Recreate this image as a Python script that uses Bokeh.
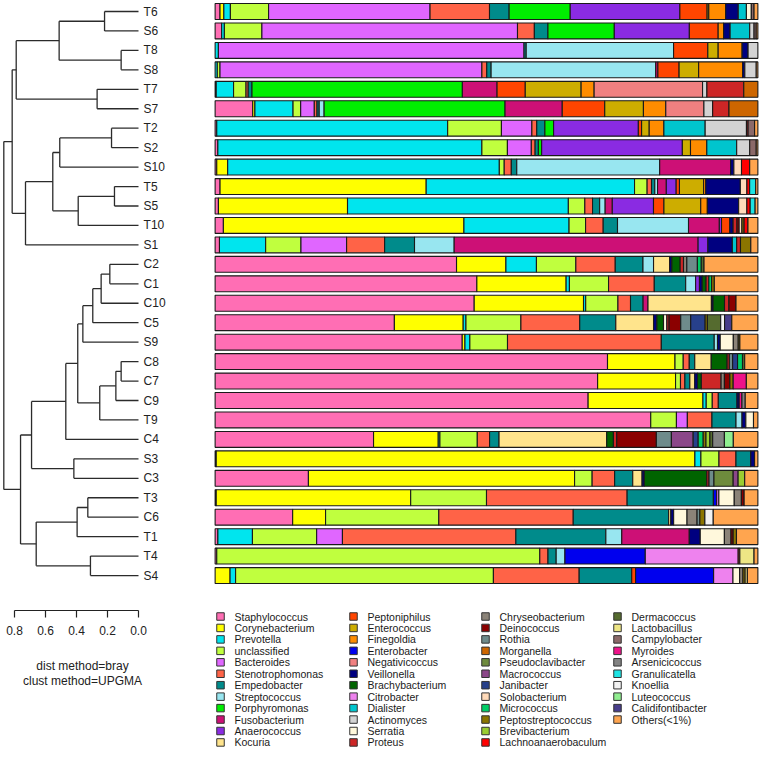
from bokeh.plotting import figure
from bokeh.models import Range1d, LinearAxis, FixedTicker, PrintfTickFormatter, ColumnDataSource
from bokeh.layouts import row, column
from bokeh.embed import file_html
from bokeh.resources import INLINE
from bokeh.core.properties import value

FONT = "Liberation Sans"

# ---------------- categories (stack order) ----------------
genera = ["Staphylococcus", "Corynebacterium", "Prevotella", "unclassified", "Bacteroides",
          "Stenotrophomonas", "Empedobacter", "Streptococcus", "Porphyromonas", "Fusobacterium",
          "Anaerococcus", "Kocuria", "Peptoniphilus", "Enterococcus", "Finegoldia",
          "Enterobacter", "Negativicoccus", "Veillonella", "Brachybacterium", "Citrobacter",
          "Dialister", "Actinomyces", "Serratia", "Proteus", "Chryseobacterium",
          "Deinococcus", "Rothia", "Morganella", "Pseudoclavibacter", "Macrococcus",
          "Janibacter", "Solobacterium", "Micrococcus", "Peptostreptococcus", "Brevibacterium",
          "Lachnoanaerobaculum", "Dermacoccus", "Lactobacillus", "Campylobacter", "Myroides",
          "Arsenicicoccus", "Granulicatella", "Knoellia", "Luteococcus", "Calidifontibacter",
          "Others(<1%)"]
colors = ["#FF6EB4", "#FFFF00", "#00E5EE", "#C0FF3E", "#E066FF",
          "#FF6347", "#008B8B", "#98E6F0", "#00EE00", "#CD1076",
          "#8A2BE2", "#FFE48C", "#FF4500", "#CDAD00", "#FF8C00",
          "#0000EE", "#F08080", "#000080", "#006400", "#EE82EE",
          "#00C5CD", "#D3D3D3", "#FFF8DC", "#CD2626", "#8B8378",
          "#8B0000", "#6E8B8B", "#CD6600", "#6E8B3D", "#8B4789",
          "#27408B", "#FFDAB9", "#00CD66", "#8B7500", "#9ACD32",
          "#FF0000", "#556B2F", "#EEE685", "#8B6969", "#EE1289",
          "#838383", "#1DE3E3", "#F2F2F2", "#90EE90", "#483D8B",
          "#FFA54F"]

# sample order (top to bottom, dendrogram leaf order)
samples = ["T6", "S6", "T8", "S8", "T7", "S7", "T2", "S2", "S10", "T5", "S5", "T10", "S1",
           "C2", "C1", "C10", "C5", "S9", "C8", "C7", "C9", "T9", "C4", "S3", "C3",
           "T3", "C6", "T1", "T4", "S4"]

# relative abundance (%) per sample: {genus index: value}
ab_T6 = {0: 0.9, 1: 0.7, 2: 1.2, 3: 7.0, 4: 29.6, 5: 10.9, 6: 3.6, 8: 11.2, 10: 20.1, 12: 5.0,
         13: 0.3, 14: 3.1, 17: 2.3, 20: 1.5, 22: 0.9, 38: 0.5, 45: 0.7}
ab_S6 = {0: 1.2, 2: 0.5, 3: 6.9, 4: 47.0, 5: 3.1, 6: 2.5, 8: 12.2, 10: 13.8, 12: 5.3, 14: 1.0,
         17: 1.2, 20: 3.6, 21: 0.8, 38: 0.4, 45: 0.3}
ab_T8 = {2: 0.6, 4: 56.2, 6: 0.4, 7: 27.1, 12: 6.3, 13: 1.9, 14: 4.4, 17: 1.1, 21: 1.8}
ab_S8 = {2: 0.4, 3: 0.5, 4: 48.2, 5: 0.9, 6: 0.8, 7: 30.3, 9: 0.4, 12: 3.9, 13: 3.6, 14: 8.1,
         17: 0.4, 21: 2.1, 45: 0.3}
ab_T7 = {0: 0.2, 2: 3.2, 3: 2.3, 5: 0.4, 6: 0.7, 8: 38.8, 9: 6.4, 12: 5.2, 13: 10.3, 14: 2.4,
         16: 20.0, 21: 0.8, 23: 6.8, 27: 2.6}
ab_S7 = {0: 6.9, 1: 0.4, 2: 7.0, 3: 1.4, 4: 2.5, 5: 0.5, 6: 0.4, 7: 0.9, 8: 33.2, 9: 10.5,
         12: 7.8, 13: 7.1, 14: 4.1, 16: 7.0, 21: 1.6, 23: 3.0, 27: 5.3}
ab_T2 = {0: 0.3, 2: 42.5, 3: 9.9, 4: 5.6, 5: 0.9, 6: 1.5, 8: 1.6, 10: 15.6, 12: 0.6, 13: 1.4,
         14: 2.7, 20: 7.6, 21: 7.6, 23: 0.3, 38: 1.2, 45: 0.6}
ab_S2 = {0: 0.5, 2: 48.6, 3: 4.7, 4: 4.4, 5: 0.7, 6: 0.6, 8: 0.6, 10: 25.9, 13: 1.5, 14: 3.0,
         20: 5.5, 21: 2.4, 38: 1.2, 45: 0.3}
ab_S10 = {0: 0.3, 1: 2.0, 2: 49.8, 3: 0.9, 5: 1.3, 6: 1.0, 7: 26.2, 9: 13.0, 17: 0.6, 31: 1.4,
          35: 1.5, 45: 1.5}
ab_T5 = {0: 0.9, 1: 37.6, 2: 38.0, 3: 2.3, 5: 0.8, 6: 0.6, 7: 0.5, 9: 1.6, 10: 1.8, 12: 0.6,
         13: 4.4, 14: 0.4, 17: 6.3, 31: 1.2, 35: 0.5, 41: 1.1, 45: 0.4}
ab_S5 = {0: 0.6, 1: 23.5, 2: 40.2, 3: 3.0, 5: 1.4, 6: 1.3, 7: 1.0, 9: 1.3, 10: 7.5, 12: 1.9,
         13: 6.7, 14: 1.2, 17: 5.7, 31: 1.5, 35: 0.6, 41: 0.9, 45: 0.5}
ab_T10 = {0: 1.5, 1: 43.7, 2: 19.1, 3: 3.0, 5: 3.2, 6: 2.6, 7: 12.9, 9: 5.6, 10: 0.4, 12: 1.5,
          17: 0.6, 23: 0.7, 25: 0.4, 31: 0.5, 33: 0.4, 35: 0.7, 45: 1.8}
ab_S1 = {0: 0.8, 2: 8.5, 3: 6.5, 4: 8.4, 5: 7.0, 6: 5.5, 7: 7.3, 9: 44.9, 10: 1.8, 17: 4.5,
         20: 0.8, 23: 0.7, 33: 1.9, 45: 1.3}
ab_C2 = {0: 43.5, 1: 8.9, 2: 5.5, 3: 7.1, 5: 7.1, 6: 5.0, 7: 1.9, 11: 2.9, 17: 0.4, 18: 1.5,
         23: 0.6, 24: 0.6, 26: 1.9, 32: 0.7, 36: 0.5, 45: 9.7}
ab_C1 = {0: 47.5, 1: 16.2, 2: 0.6, 3: 7.1, 5: 8.3, 6: 5.7, 7: 1.8, 10: 0.7, 17: 0.5, 18: 0.7,
         23: 0.5, 32: 0.5, 33: 0.5, 45: 7.9}
ab_C10 = {0: 47.4, 1: 20.0, 2: 0.4, 3: 5.9, 5: 2.3, 6: 2.3, 9: 0.9, 11: 11.6, 17: 0.3, 18: 2.1,
          23: 0.8, 25: 1.3, 45: 4.0}
ab_C5 = {0: 32.3, 1: 12.4, 2: 0.5, 3: 9.9, 5: 10.6, 6: 6.5, 11: 6.8, 17: 0.6, 18: 1.2, 22: 0.6,
         23: 0.4, 25: 2.1, 26: 1.8, 30: 2.6, 33: 0.4, 36: 2.4, 42: 0.7, 44: 1.3, 45: 4.7}
ab_S9 = {0: 45.3, 1: 0.5, 2: 0.9, 3: 6.9, 5: 28.2, 6: 9.7, 7: 0.6, 17: 0.5, 22: 2.4, 24: 0.9,
         33: 0.3, 45: 3.3}
ab_C8 = {0: 71.5, 1: 12.3, 3: 1.5, 5: 1.1, 6: 1.0, 11: 3.0, 18: 2.9, 23: 0.4, 26: 0.6, 30: 0.9,
         32: 0.9, 36: 0.4, 45: 2.4}
ab_C7 = {0: 69.7, 1: 14.2, 3: 0.9, 5: 0.8, 6: 0.9, 11: 0.9, 17: 0.5, 18: 0.7, 23: 3.6, 24: 0.6,
         25: 1.0, 33: 0.6, 39: 2.4, 45: 2.1}
ab_C9 = {0: 67.9, 1: 20.9, 2: 0.6, 3: 1.1, 5: 1.1, 6: 3.4, 17: 0.4, 39: 0.5, 40: 0.6, 45: 2.3}
ab_T9 = {0: 79.7, 3: 4.7, 4: 2.0, 5: 4.5, 6: 4.4, 7: 1.1, 17: 0.7, 22: 1.4, 45: 0.8}
ab_C4 = {0: 28.4, 1: 11.6, 2: 0.3, 3: 6.7, 5: 2.2, 6: 1.7, 11: 19.3, 18: 1.2, 23: 0.6, 25: 7.1,
         26: 2.7, 29: 3.9, 30: 0.9, 32: 0.9, 33: 0.5, 34: 0.7, 36: 0.5, 40: 2.1, 43: 1.6, 45: 4.4}
ab_S3 = {0: 0.2, 1: 87.4, 2: 1.1, 3: 3.3, 5: 3.1, 6: 2.7, 17: 0.7, 45: 0.6}
ab_C3 = {0: 17.0, 1: 48.5, 3: 3.2, 5: 4.1, 6: 3.3, 11: 1.7, 17: 0.4, 18: 11.4, 23: 0.4, 26: 0.9,
         28: 3.5, 29: 0.9, 34: 1.2, 45: 2.4}
ab_T3 = {0: 0.2, 1: 35.4, 3: 13.8, 5: 25.6, 6: 15.7, 15: 0.6, 19: 0.4, 22: 2.8, 24: 1.3, 25: 0.5,
         45: 2.5}
ab_C6 = {0: 13.9, 1: 5.9, 3: 20.3, 5: 24.1, 6: 17.1, 11: 0.4, 17: 0.5, 22: 2.4, 24: 1.8, 26: 0.5,
         33: 0.9, 42: 1.5, 45: 8.0}
ab_T1 = {0: 0.5, 2: 6.3, 3: 11.7, 4: 4.7, 5: 31.6, 6: 16.4, 7: 2.9, 9: 12.3, 17: 2.0, 22: 4.4,
         24: 1.2, 25: 0.4, 33: 0.6, 45: 3.9}
ab_T4 = {0: 0.3, 3: 59.1, 5: 1.5, 6: 1.5, 7: 1.6, 15: 14.7, 19: 17.0, 23: 0.3, 37: 2.6, 45: 0.7}
ab_S4 = {1: 2.7, 2: 1.0, 3: 46.6, 5: 15.5, 6: 9.5, 12: 0.7, 15: 14.1, 19: 3.5, 22: 1.2, 24: 0.6,
         33: 0.4, 37: 0.4, 45: 1.9}

abundance = {"T6": ab_T6, "S6": ab_S6, "T8": ab_T8, "S8": ab_S8, "T7": ab_T7, "S7": ab_S7,
             "T2": ab_T2, "S2": ab_S2, "S10": ab_S10, "T5": ab_T5, "S5": ab_S5, "T10": ab_T10,
             "S1": ab_S1, "C2": ab_C2, "C1": ab_C1, "C10": ab_C10, "C5": ab_C5, "S9": ab_S9,
             "C8": ab_C8, "C7": ab_C7, "C9": ab_C9, "T9": ab_T9, "C4": ab_C4, "S3": ab_S3,
             "C3": ab_C3, "T3": ab_T3, "C6": ab_C6, "T1": ab_T1, "T4": ab_T4, "S4": ab_S4}

# UPGMA merges (left, right, height); "mK" = K-th merge
merges = [("T6", "S6", 0.219), ("T8", "S8", 0.112), ("m0", "m1", 0.512), ("T7", "S7", 0.267),
          ("m2", "m3", 0.789), ("T2", "S2", 0.174), ("m5", "S10", 0.508), ("T5", "S5", 0.155),
          ("m7", "T10", 0.389), ("m6", "m8", 0.553), ("m9", "S1", 0.729), ("m4", "m10", 0.815),
          ("C2", "C1", 0.185), ("m12", "C10", 0.241), ("m13", "C5", 0.295), ("m14", "S9", 0.359),
          ("C8", "C7", 0.112), ("m16", "C9", 0.146), ("m17", "T9", 0.250), ("m15", "m18", 0.392),
          ("m19", "C4", 0.469), ("S3", "C3", 0.417), ("m20", "m21", 0.690), ("T3", "C6", 0.327),
          ("m23", "T1", 0.396), ("T4", "S4", 0.310), ("m24", "m25", 0.660), ("m22", "m26", 0.761),
          ("m11", "m27", 0.869)]

dist_ticks = [0.0, 0.2, 0.4, 0.6, 0.8]

# ---------------- layout constants ----------------
N = len(samples)
ROW_PX = 19.45
Y_TOP = (N - 1) + 11 / ROW_PX
Y_BOT_BARS = Y_TOP - 600 / ROW_PX
Y_BOT_DEND = Y_TOP - 610 / ROW_PX


def base_fig(w, h, xr, yr):
    f = figure(width=w, height=h, x_range=xr, y_range=yr, output_backend="svg",
               toolbar_location=None, x_axis_location=None, y_axis_location=None,
               min_border=0, outline_line_color=None, background_fill_color="white",
               border_fill_color="white")
    f.grid.visible = False
    return f


# ---------------- dendrogram ----------------
dend = base_fig(213, 642, Range1d(138 / 155, (138 - 213) / 155), Range1d(Y_BOT_DEND, Y_TOP))
dend.min_border_bottom = 32
pos = {s: (0.0, (N - 1) - i) for i, s in enumerate(samples)}
x0, y0, x1, y1 = [], [], [], []
for k, (a, b, h) in enumerate(merges):
    ha, ya = pos[a]
    hb, yb = pos[b]
    x0 += [ha, hb, h]
    x1 += [h, h, h]
    y0 += [ya, yb, ya]
    y1 += [ya, yb, yb]
    pos["m%d" % k] = (h, (ya + yb) / 2.0)
dend.segment(x0=x0, y0=y0, x1=x1, y1=y1, line_color="#2b2b2b", line_width=1.3)
dend.text(x=[-0.033] * N, y=[(N - 1) - i for i in range(N)], text=samples,
          text_font=value(FONT), text_font_size="12px", text_baseline="middle",
          text_align="left", text_color="#222222")
ax = LinearAxis(ticker=FixedTicker(ticks=dist_ticks), formatter=PrintfTickFormatter(format="%.1f"),
                bounds=(0, 0.8), major_tick_in=0, major_tick_out=7, minor_tick_in=0,
                minor_tick_out=0, major_label_standoff=8, axis_line_color="#222222",
                axis_line_width=1.2, major_tick_line_color="#222222", major_tick_line_width=1.2,
                major_label_text_font=FONT, major_label_text_font_size="12px",
                major_label_text_color="#222222")
dend.add_layout(ax, "below")

note = base_fig(213, 107, Range1d(0, 213), Range1d(107, 0))
note.text(x=[82, 82], y=[23, 38], text=["dist method=bray", "clust method=UPGMA"],
          text_font=value(FONT), text_font_size="12px", text_baseline="middle",
          text_align="center", text_color="#222222")

# ---------------- stacked bars ----------------
bars = base_fig(546, 600, Range1d(-0.3, 100.3), Range1d(Y_BOT_BARS, Y_TOP))
seg = {"y": [], "left": [], "right": [], "color": []}
for i, s in enumerate(samples):
    d = abundance[s]
    tot = sum(d.values())
    acc = 0.0
    for g in sorted(d):
        v = d[g] / tot * 100.0
        seg["y"].append((N - 1) - i)
        seg["left"].append(acc)
        seg["right"].append(acc + v)
        seg["color"].append(colors[g])
        acc += v
bars.hbar(y="y", left="left", right="right", height=0.82, fill_color="color",
          line_color="#1a1a1a", line_width=1.1, source=ColumnDataSource(seg))

# ---------------- legend ----------------
leg = base_fig(546, 149, Range1d(0, 546), Range1d(149, 0))
col_sq = [7, 140, 272, 404]
col_tx = [21, 154, 286, 418]
lx, ly, tx = [], [], []
for k in range(len(genera)):
    c, r = k // 12, k % 12
    lx.append(col_sq[c])
    tx.append(col_tx[c])
    ly.append(16 + 11.45 * r)
leg.scatter(x=lx, y=ly, marker="square", size=7.5, fill_color=colors, line_color="#333333",
            line_width=1)
leg.text(x=tx, y=ly, text=genera, text_font=value(FONT), text_font_size="10.5px",
         text_baseline="middle", text_align="left", text_color="#1a1a1a")

layout = row(column(dend, note, spacing=0), column(bars, leg, spacing=0), spacing=0)
open("out.html", "w").write(file_html(layout, INLINE))
